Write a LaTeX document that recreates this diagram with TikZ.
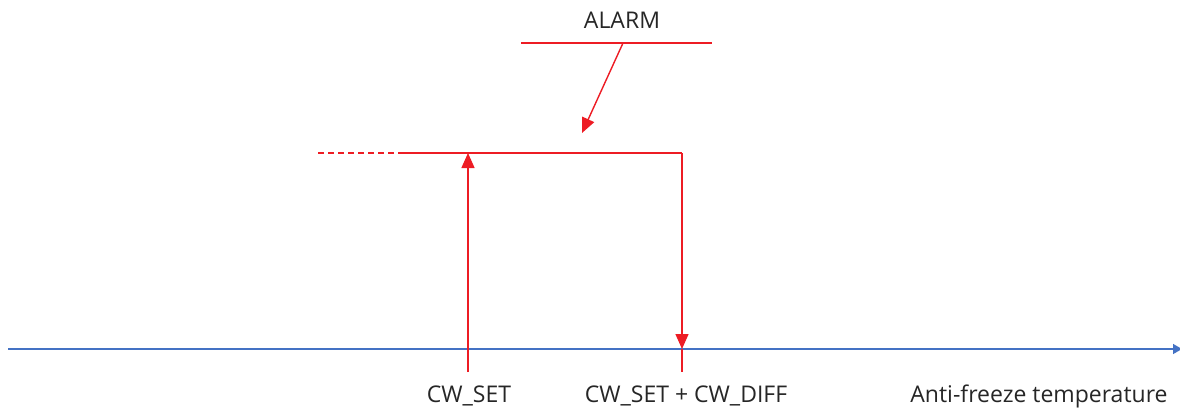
\documentclass[tikz,border=0pt]{standalone}
\usepackage{fontspec}
\setmainfont{Open Sans}
\usetikzlibrary{arrows.meta}
\definecolor{ored}{RGB}{237,28,36}
\definecolor{oblue}{RGB}{68,114,196}
\definecolor{txt}{RGB}{38,38,38}
\begin{document}
\begin{tikzpicture}[x=1pt,y=-1pt,
  redline/.style={draw=ored,line width=1.4pt},
  redarrow/.style={redline,-{Triangle[length=15pt,width=13pt]}},
  lbl/.style={text=txt,font=\fontsize{23}{27}\selectfont,inner sep=0pt,anchor=base}]
\useasboundingbox (0,0) rectangle (1180,407);
% axis
\coordinate (axL) at (8,349);
\coordinate (axR) at (1182,349);
\draw[draw=oblue,line width=1.4pt,-{Triangle[length=9pt,width=10pt]}] (axL) -- (axR);
% alarm
\node[lbl] (alarm) at (622,28) {ALARM};
\coordinate (alL) at (521,43);
\coordinate (alR) at (712,43);
\coordinate (alS) at (623,43);
\coordinate (alT) at (582,133);
\draw[redline] (alL) -- (alR);
\draw[redarrow] (alS) -- (alT);
% level line
\coordinate (dL) at (318,153);
\coordinate (dR) at (398,153);
\coordinate (top1) at (468,153);
\coordinate (top2) at (682,153);
\draw[redline,dashed,dash pattern=on 6pt off 4pt] (dL) -- (dR);
\draw[redline] (dR) -- (top2);
% verticals
\coordinate (bot1) at (468,372);
\coordinate (ax2) at (682,349);
\coordinate (bot2) at (682,372);
\draw[redarrow] (bot1) -- (top1);
\draw[redarrow] (top2) -- (ax2);
\draw[redline] (ax2) -- (bot2);
% labels
\node[lbl] (cwset) at (469,402) {CW\_SET};
\node[lbl] (cwdiff) at (686,402) {CW\_SET + CW\_DIFF};
\node[lbl] (temp) at (1039,402) {Anti-freeze temperature};
\end{tikzpicture}
\end{document}
